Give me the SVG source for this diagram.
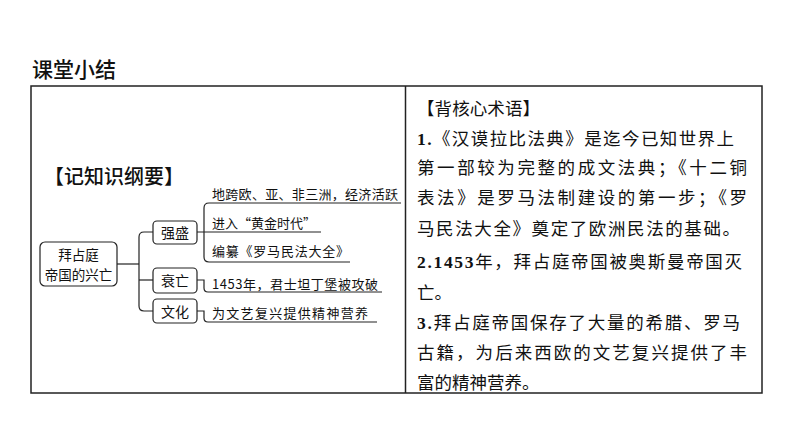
<svg xmlns="http://www.w3.org/2000/svg" width="794" height="447" viewBox="0 0 794 447">
<style>
.t{font-family:"Noto Sans CJK SC","Noto Sans",sans-serif;fill:#111}
.h{font-size:21px;font-weight:500}
.sec{font-size:20px;font-weight:500}
.r{font-size:17.5px}
.n{font-size:14px}
.m{font-size:13.5px}
.i{font-size:13px}
.b{font-family:"Liberation Serif",serif;font-weight:bold}
.box{fill:#fff;stroke:#222;stroke-width:1.2}
.ln{fill:none;stroke:#222;stroke-width:1.2}
.frame{fill:none;stroke:#222;stroke-width:1.5}
</style>
<rect width="794" height="447" fill="#fff"/>
<text class="t h" x="32" y="77">课堂小结</text>
<rect class="frame" x="31" y="86" width="731" height="307"/>
<line class="frame" x1="405.5" y1="86" x2="405.5" y2="393"/>
<text class="t sec" x="44" y="183.5">【记知识纲要】</text>

<g id="connectors">
<path class="ln" d="M117,264 H139"/>
<path class="ln" d="M153,232 H144 Q139,232 139,237 V306 Q139,311 144,311 H153"/>
<path class="ln" d="M139,280 H153"/>
<path class="ln" d="M401,203 H209 Q204,203 204,208 V257 Q204,262 209,262 H350"/>
<path class="ln" d="M197,232 H321"/>
<path class="ln" d="M197,280 H204 V288 Q204,292 208,292 H382"/>
<path class="ln" d="M197,311 H204 V318 Q204,322 208,322 H377"/>
</g>

<g id="node-main">
<rect class="box" x="40" y="242" width="77" height="44" rx="5"/>
<text class="t m" x="78.5" y="260" text-anchor="middle">拜占庭</text>
<text class="t m" x="78.5" y="279.5" text-anchor="middle">帝国的兴亡</text>
</g>
<g id="node-qiangsheng">
<rect class="box" x="153" y="221" width="44" height="23" rx="4"/>
<text class="t n" x="175" y="238" text-anchor="middle">强盛</text>
</g>
<g id="node-shuaiwang">
<rect class="box" x="153" y="268" width="44" height="25" rx="4"/>
<text class="t n" x="175" y="286" text-anchor="middle">衰亡</text>
</g>
<g id="node-wenhua">
<rect class="box" x="153" y="299" width="44" height="24" rx="4"/>
<text class="t n" x="175" y="317" text-anchor="middle">文化</text>
</g>
<g id="items">
<text class="t i" x="212" y="199" textLength="186" lengthAdjust="spacing">地跨欧、亚、非三洲，经济活跃</text>
<text class="t i" x="212" y="228">进入“黄金时代”</text>
<text class="t i" x="212" y="256" textLength="137" lengthAdjust="spacing">编纂《罗马民法大全》</text>
<text class="t i" x="212" y="289" textLength="166" lengthAdjust="spacing">1453年，君士坦丁堡被攻破</text>
<text class="t i" x="212" y="317.5" textLength="156" lengthAdjust="spacing">为文艺复兴提供精神营养</text>
</g>

<g id="summary">
<text class="t r" x="417" y="114.5" textLength="123" lengthAdjust="spacing">【背核心术语】</text>
<text class="t r" x="417" y="144.5" textLength="317" lengthAdjust="spacing"><tspan class="b">1.</tspan>《汉谟拉比法典》是迄今已知世界上</text>
<text class="t r" x="417" y="173.5" textLength="330" lengthAdjust="spacing">第一部较为完整的成文法典；《十二铜</text>
<text class="t r" x="417" y="203.5" textLength="330" lengthAdjust="spacing">表法》是罗马法制建设的第一步；《罗</text>
<text class="t r" x="417" y="234.5" textLength="323" lengthAdjust="spacing">马民法大全》奠定了欧洲民法的基础。</text>
<text class="t r" x="417" y="267.5" textLength="325" lengthAdjust="spacing"><tspan class="b">2.1453</tspan>年，拜占庭帝国被奥斯曼帝国灭</text>
<text class="t r" x="417" y="298.5">亡。</text>
<text class="t r" x="417" y="328.5" textLength="323" lengthAdjust="spacing"><tspan class="b">3.</tspan>拜占庭帝国保存了大量的希腊、罗马</text>
<text class="t r" x="417" y="358.5" textLength="330" lengthAdjust="spacing">古籍，为后来西欧的文艺复兴提供了丰</text>
<text class="t r" x="417" y="388.5">富的精神营养。</text>
</g>
</svg>
